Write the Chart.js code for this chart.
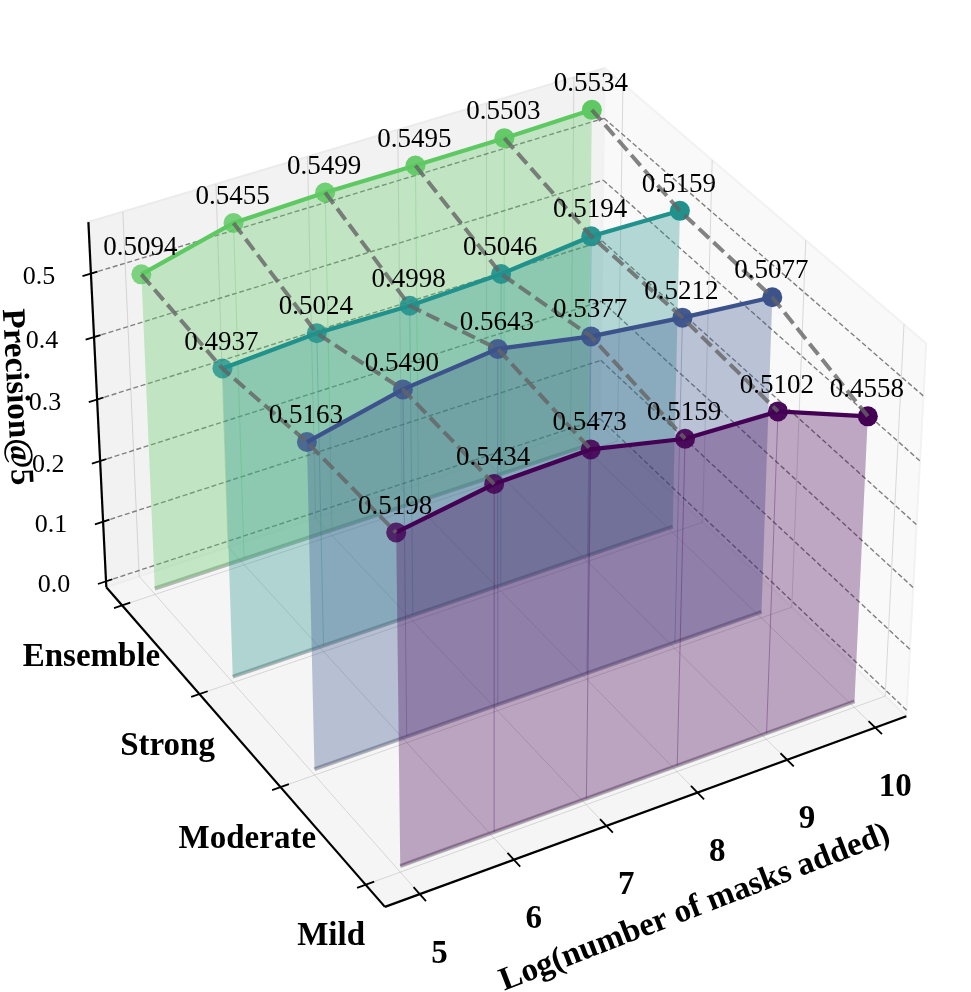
<!DOCTYPE html>
<html lang="en">
<head>
  <meta charset="UTF-8" />
  <title>Precision@5 by masks added</title>
  <script src="https://cdn.jsdelivr.net/npm/chart.js"></script>
  <style>
    html, body { margin: 0; padding: 0; background: #fff; }
    canvas { display: block; }
  </style>
</head>
<body>
  <canvas id="chart" width="971" height="992"></canvas>

  <script>
    // Values
    const masks = [5, 6, 7, 8, 9, 10];
    const strengths = ['Mild', 'Moderate', 'Strong', 'Ensemble'];
    const mild = [0.5198, 0.5434, 0.5473, 0.5159, 0.5102, 0.4558];
    const moderate = [0.5163, 0.5490, 0.5643, 0.5377, 0.5212, 0.5077];
    const strong = [0.4937, 0.5024, 0.4998, 0.5046, 0.5194, 0.5159];
    const ensemble = [0.5094, 0.5455, 0.5499, 0.5495, 0.5503, 0.5534];
    const zTicks = [0, 0.1, 0.2, 0.3, 0.4, 0.5];

    const series = [mild, moderate, strong, ensemble];
    const rgb = ['68,1,84', '59,82,139', '33,145,140', '94,201,98'];

    // axes limits of the 3D box
    const xMin = 4.634, xMax = 10.356, yMin = -0.22, yMax = 3.21, zMin = -0.01, zMax = 0.58;

    // camera matrix fitted to the picture
    const cam = [
      [400.25064, 97.91827, -77.96018, -39.90553],
      [866.00361, -27.13752, -77.89886, -684.85438],
      [1, 0.00827, 0.02482, -0.08102]
    ];

    function project(x, y, z) {
      const m = x - 5;
      const d = cam[2][0] + cam[2][1] * m + cam[2][2] * y + cam[2][3] * z;
      return {
        x: (cam[0][0] + cam[0][1] * m + cam[0][2] * y + cam[0][3] * z) / d,
        y: (cam[1][0] + cam[1][1] * m + cam[1][2] * y + cam[1][3] * z) / d
      };
    }

    const datasets = [];

    function addPolygon(corners, fillColor, edgeColor, edgeWidth) {
      datasets.push({
        data: corners.map(c => project(c[0], c[1], c[2])),
        showLine: false,
        pointRadius: 0,
        polygonFill: fillColor,
        polygonEdge: edgeColor,
        polygonEdgeWidth: edgeWidth
      });
    }

    function addLine(a, b, color, width, dash) {
      datasets.push({
        data: [project(a[0], a[1], a[2]), project(b[0], b[1], b[2])],
        showLine: true,
        borderColor: color,
        borderWidth: width,
        borderDash: dash || [],
        pointRadius: 0
      });
    }

    // panes
    addPolygon([[xMin, yMax, zMin], [xMax, yMax, zMin], [xMax, yMax, zMax], [xMin, yMax, zMax]], '#f2f2f2', '#ebebeb', 2);
    addPolygon([[xMax, yMin, zMin], [xMax, yMax, zMin], [xMax, yMax, zMax], [xMax, yMin, zMax]], '#f9f9f9', '#f2f2f2', 2);
    addPolygon([[xMin, yMin, zMin], [xMax, yMin, zMin], [xMax, yMax, zMin], [xMin, yMax, zMin]], '#f5f5f5', '#eeeeee', 2);

    // faint grid
    const gridColor = 'rgba(176,176,176,0.5)';
    masks.forEach(m => {
      addLine([m, yMin, zMin], [m, yMax, zMin], gridColor, 0.9);
      addLine([m, yMax, zMin], [m, yMax, zMax], gridColor, 0.9);
    });
    strengths.forEach((s, i) => {
      addLine([xMin, i, zMin], [xMax, i, zMin], gridColor, 0.9);
      addLine([xMax, i, zMin], [xMax, i, zMax], gridColor, 0.9);
    });

    // dashed value grid on the two back panes
    zTicks.forEach(z => {
      addLine([xMin, yMax, z], [xMax, yMax, z], '#808080', 1.4, [5, 2.6]);
      addLine([xMax, yMax, z], [xMax, yMin, z], '#808080', 1.4, [5, 2.6]);
    });

    // axis lines and ticks
    addLine([xMin, yMin, zMin], [xMax, yMin, zMin], '#000', 2.2);
    addLine([xMin, yMin, zMin], [xMin, yMax, zMin], '#000', 2.2);
    addLine([xMin, yMax, zMin], [xMin, yMax, zMax], '#000', 2.2);
    masks.forEach(m => addLine([m, yMin - 0.07, zMin], [m, yMin + 0.07, zMin], '#000', 1.8));
    strengths.forEach((s, i) => addLine([xMin - 0.09, i, zMin], [xMin + 0.09, i, zMin], '#000', 1.8));
    zTicks.forEach(z => addLine([xMin - 0.09, yMax, z], [xMin + 0.07, yMax, z], '#000', 1.8));

    // one ribbon per strength, back to front
    for (let i = series.length - 1; i >= 0; i--) {
      const vals = series[i];
      const first = masks[0], last = masks[masks.length - 1];
      addLine([first, i, 0], [last, i, 0], 'rgba(128,128,128,0.5)', 4);
      const top = masks.map((m, k) => [m, i, vals[k]]);
      addPolygon(top.concat([[last, i, 0], [first, i, 0]]), `rgba(${rgb[i]},0.33)`);
      addLine([first, i, 0], [last, i, 0], `rgba(${rgb[i]},0.18)`, 2.5);
      masks.forEach((m, k) => {
        if (k > 0 && k < masks.length - 1) addLine([m, i, 0], [m, i, vals[k]], `rgba(${rgb[i]},0.33)`, 1);
      });
      datasets.push({
        data: masks.map((m, k) => project(m, i, vals[k])),
        showLine: true,
        borderColor: `rgb(${rgb[i]})`,
        borderWidth: 4.2,
        pointRadius: 10,
        pointHoverRadius: 10,
        pointBorderWidth: 0,
        pointBackgroundColor: masks.map((m, k) => `rgba(${rgb[i]},${0.8 + 0.04 * k})`)
      });
    }

    // thick dashes joining equal mask counts across strengths
    masks.forEach((m, k) => {
      datasets.push({
        data: [3, 2, 1, 0].map(i => project(m, i, series[i][k])),
        showLine: true,
        borderColor: 'rgba(100,100,100,0.8)',
        borderWidth: 4,
        borderDash: [14, 6],
        pointRadius: 0
      });
    });

    // later entries go on top
    datasets.forEach((d, i) => { d.order = -i; });

    const serif = '"Liberation Serif", "Times New Roman", serif';

    function putText(ctx, text, x, y, font, angle) {
      ctx.save();
      ctx.translate(x, y);
      if (angle) ctx.rotate(angle * Math.PI / 180);
      ctx.font = font;
      ctx.fillStyle = '#000';
      ctx.textAlign = 'center';
      ctx.textBaseline = 'middle';
      ctx.fillText(text, 0, 0);
      ctx.restore();
    }

    const polygonPlugin = {
      id: 'polygonFill',
      beforeDatasetDraw(chart, args) {
        const ds = chart.data.datasets[args.index];
        if (!ds.polygonFill) return;
        const ctx = chart.ctx;
        ctx.save();
        ctx.beginPath();
        args.meta.data.forEach((p, i) => (i ? ctx.lineTo(p.x, p.y) : ctx.moveTo(p.x, p.y)));
        ctx.closePath();
        ctx.fillStyle = ds.polygonFill;
        ctx.fill();
        if (ds.polygonEdge) {
          ctx.strokeStyle = ds.polygonEdge;
          ctx.lineWidth = ds.polygonEdgeWidth;
          ctx.stroke();
        }
        ctx.restore();
      }
    };

    const textPlugin = {
      id: 'chartText',
      afterDatasetsDraw(chart) {
        const ctx = chart.ctx;
        const sx = chart.scales.x, sy = chart.scales.y;
        const at = (x, y, z, dx, dy) => {
          const p = project(x, y, z);
          return [sx.getPixelForValue(p.x) + dx, sy.getPixelForValue(p.y) + dy];
        };

        // value labels
        series.forEach((vals, i) => {
          vals.forEach((v, k) => {
            const [px, py] = at(masks[k], i, v, -1, -26);
            putText(ctx, v.toFixed(4), px, py, `27px ${serif}`);
          });
        });

        // tick labels
        const bold = `bold 33px ${serif}`;
        masks.forEach(m => {
          const [px, py] = at(m, yMin - 0.02, zMin, 18, 58);
          putText(ctx, String(m), px, py, bold);
        });
        strengths.forEach((s, i) => {
          const [px, py] = at(xMin, i, zMin, -33 + i * 1.3 - 1.5, 52);
          putText(ctx, s, px, py, bold);
        });
        zTicks.forEach(z => {
          const [px, py] = at(xMin, yMax, z, -52, 4);
          putText(ctx, z.toFixed(1), px, py, `26px ${serif}`);
        });

        // axis titles
        putText(ctx, 'Log(number of masks added)', 695, 908, bold, -21.1);
        putText(ctx, 'Precision@5', 16, 397, bold, 87);
      }
    };

    new Chart(document.getElementById('chart'), {
      type: 'scatter',
      data: { datasets },
      options: {
        responsive: false,
        animation: false,
        events: [],
        layout: { padding: 0, autoPadding: false },
        clip: false,
        scales: {
          x: { type: 'linear', min: 0, max: 971, display: false },
          y: { type: 'linear', min: 0, max: 992, reverse: true, display: false }
        },
        plugins: { legend: { display: false }, tooltip: { enabled: false }, title: { display: false } }
      },
      plugins: [polygonPlugin, textPlugin]
    });
  </script>
</body>
</html>
